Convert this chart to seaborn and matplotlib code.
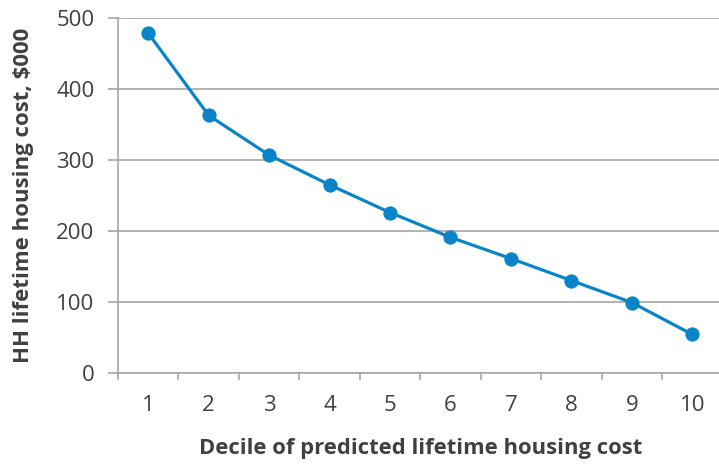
import matplotlib
matplotlib.use("Agg")
import matplotlib.pyplot as plt
import seaborn as sns
import pandas as pd

deciles = [1, 2, 3, 4, 5, 6, 7, 8, 9, 10]
cost_thousands = [479, 363, 307, 265, 226, 191, 161, 130, 99, 54]
y_ticks = [0, 100, 200, 300, 400, 500]

sns.set_style("white")
plt.rcParams["font.family"] = ["Open Sans", "DejaVu Sans"]

df = pd.DataFrame({"decile": deciles, "cost": cost_thousands})

fig = plt.figure(figsize=(7.19, 4.66), dpi=100)
ax = fig.add_axes([118 / 719, 1 - 372.7 / 466, (722.5 - 118) / 719, (372.7 - 18.3) / 466])

line_color = "#0A84C9"
text_color = "#404040"
grid_color = "#A6A6A6"

sns.lineplot(data=df, x="decile", y="cost", ax=ax, color=line_color,
             linewidth=2.3, marker="o", markersize=9.5,
             markeredgecolor=line_color, markerfacecolor=line_color)

ax.set_xlim(0.5, 10.5)
ax.set_ylim(0, 500)
ax.set_yticks(y_ticks)
ax.set_xticks(deciles)
ax.set_xticks([d - 0.5 for d in deciles], minor=True)
ax.yaxis.grid(True, color=grid_color, linewidth=1.2)
ax.xaxis.grid(False)
ax.set_axisbelow(True)

for side in ("top", "right"):
    ax.spines[side].set_visible(False)
for side in ("left", "bottom"):
    ax.spines[side].set_color(grid_color)
    ax.spines[side].set_linewidth(1.2)

ax.tick_params(axis="y", which="major", length=7, width=1.2, color=grid_color,
               pad=10, labelsize=16, labelcolor=text_color, left=True)
ax.tick_params(axis="x", which="major", length=0, pad=16, labelsize=16,
               labelcolor=text_color)
ax.tick_params(axis="x", which="minor", length=5, width=1.2, color=grid_color,
               bottom=True)

ax.set_xlabel("Decile of predicted lifetime housing cost", fontsize=15.8,
              fontweight="bold", color=text_color, labelpad=16)
ax.set_ylabel("HH lifetime housing cost, $000", fontsize=16,
              fontweight="bold", color=text_color, labelpad=16)

fig.savefig("out.png", dpi=100)
